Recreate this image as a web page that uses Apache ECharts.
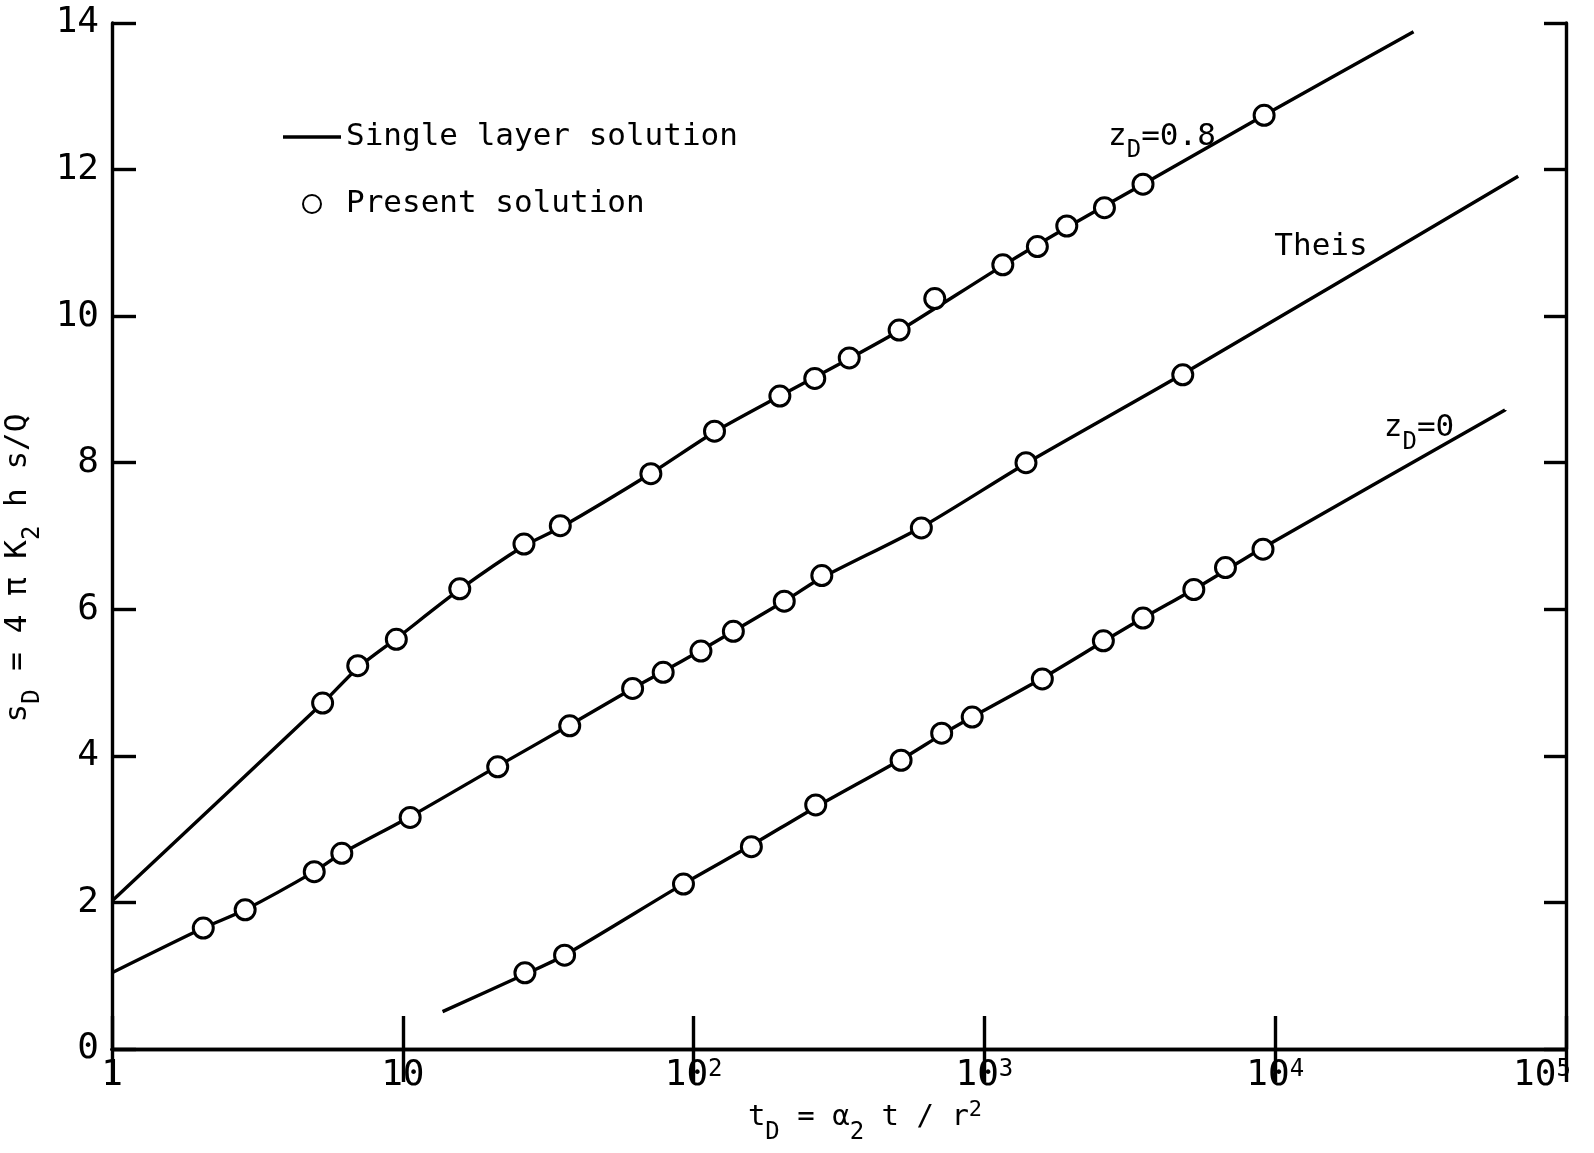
<!DOCTYPE html>
<html>
<head>
<meta charset="utf-8">
<script src="https://cdn.jsdelivr.net/npm/echarts@6/dist/echarts.min.js"></script>
<style>
  html, body { margin: 0; padding: 0; background: #ffffff; }
  #chart { width: 1594px; height: 1153px; }
</style>
</head>
<body>
<div id="chart"></div>
<script>
// Dimensionless drawdown s_D against dimensionless time t_D (log scale)

const xTicks = [1, 10, 100, 1000, 10000, 100000];
const xTickLabels = ['1', '10', '10^2', '10^3', '10^4', '10^5'];
const yTickLabels = ['0', '2', '4', '6', '8', '10', '12', '14'];

// Single layer solution curves, [t_D, s_D]
const lineZ08 = [
  [1, 2.02], [5.3, 4.72], [7, 5.2],
  [9.5, 5.6], [15.7, 6.27], [26, 6.86], [35, 7.12], [71, 7.85], [118, 8.42],
  [200, 8.92], [343, 9.42], [509, 9.8], [1157, 10.69], [1920, 11.21],
  [3511, 11.8], [9160, 12.74], [29900, 13.88]
];
const lineTheis = [
  [1, 1.04], [2.06, 1.65], [2.87, 1.9], [4.96, 2.42], [6.17, 2.67], [10.6, 3.17],
  [21.2, 3.86], [37.5, 4.42], [61.7, 4.92], [78.6, 5.15], [106, 5.44], [137, 5.7],
  [205, 6.11], [276, 6.43], [607, 7.12], [1390, 7.99], [4810, 9.21], [68500, 11.91]
];
const lineZ0 = [
  [13.7, 0.51], [26.3, 1.02], [36, 1.28], [92, 2.25], [158, 2.78], [263, 3.3],
  [517, 3.95], [713, 4.29], [908, 4.53], [1582, 5.06], [2565, 5.56], [3511, 5.88],
  [5250, 6.27], [6745, 6.53], [9080, 6.84], [61700, 8.72]
];

// Present solution, [t_D, s_D]
const ptsZ08 = [
  [5.3, 4.72], [7.0, 5.23], [9.5, 5.59], [15.7, 6.28], [26.1, 6.89], [34.8, 7.14],
  [71.3, 7.85], [118, 8.43], [198, 8.91], [261, 9.15], [343, 9.43], [509, 9.81],
  [675, 10.24], [1157, 10.7], [1521, 10.95], [1920, 11.23], [2587, 11.48],
  [3511, 11.8], [9160, 12.74]
];
const ptsTheis = [
  [2.06, 1.65], [2.87, 1.9], [4.96, 2.42], [6.17, 2.67], [10.6, 3.16], [21.2, 3.85],
  [37.5, 4.41], [61.7, 4.92], [78.6, 5.14], [106, 5.43], [137, 5.7], [205, 6.11],
  [276, 6.46], [607, 7.11], [1390, 8.0], [4810, 9.2]
];
const ptsZ0 = [
  [26.3, 1.04], [36, 1.28], [92.3, 2.25], [158, 2.76], [263, 3.33], [517, 3.94],
  [713, 4.31], [908, 4.53], [1582, 5.05], [2565, 5.57], [3511, 5.88], [5250, 6.27],
  [6745, 6.57], [9080, 6.82]
];

const curveTexts = ['z{s|D}=0.8', 'Theis', 'z{s|D}=0'];

const FONT = '"DejaVu Sans Mono", "Liberation Mono", monospace';
const INK = '#000000';

const subRich = {
  b: { fontFamily: FONT, fontSize: 31, color: INK, verticalAlign: 'top', lineHeight: 32 },
  s: { fontFamily: FONT, fontSize: 24, color: INK, verticalAlign: 'top', lineHeight: 24, padding: [18, 0, 0, 0] },
  p: { fontFamily: FONT, fontSize: 22, color: INK, verticalAlign: 'top', lineHeight: 22, padding: [-4, 0, 0, 0] }
};

const tickRich = {
  b: { fontFamily: FONT, fontSize: 36, color: INK, verticalAlign: 'top', lineHeight: 38 },
  sup: { fontFamily: FONT, fontSize: 24, color: INK, verticalAlign: 'top', lineHeight: 24 },
  supEnd: { fontFamily: FONT, fontSize: 24, color: INK, verticalAlign: 'top', lineHeight: 24, padding: [0, 48, 0, 0] }
};

function tickText(v) {
  const i = xTicks.findIndex(t => Math.abs(Math.log10(t) - Math.log10(v)) < 1e-6);
  if (i < 0) return '';
  const parts = xTickLabels[i].split('^');
  if (parts.length < 2) return '{b|' + parts[0] + '}';
  const supStyle = i === xTicks.length - 1 ? 'supEnd' : 'sup';
  return '{b|' + parts[0] + '}{' + supStyle + '|' + parts[1] + '}';
}

function curveLabel(coord, text) {
  return {
    symbol: 'circle', symbolSize: 1, silent: true,
    itemStyle: { color: 'rgba(0,0,0,0)' },
    data: [{ coord: coord }],
    label: {
      show: true, position: 'inside', formatter: text,
      fontFamily: FONT, fontSize: 31, color: INK,
      rich: { b: subRich.b, s: subRich.s }
    }
  };
}

const lineStyle = { color: INK, width: 3.4 };
const pointStyle = { color: '#ffffff', borderColor: INK, borderWidth: 3, opacity: 1 };

function lineSeries(data, mark) {
  return {
    name: 'Single layer solution', type: 'line', data: data,
    symbol: 'none', smooth: 0.25, lineStyle: lineStyle, itemStyle: { color: INK },
    z: 2, silent: true, markPoint: mark
  };
}
function pointSeries(data) {
  return {
    name: 'Present solution', type: 'scatter', data: data,
    symbol: 'circle', symbolSize: 20, itemStyle: pointStyle, z: 3
  };
}

const axisLine = { show: true, lineStyle: { color: INK, width: 3.4 } };
const tickStyle = { color: INK, width: 3.4 };

const option = {
  backgroundColor: '#ffffff',
  animation: false,
  grid: {
    left: 112, right: 28, top: 23, bottom: 104,
    containLabel: false, outerBoundsMode: 'none'
  },
  legend: {
    orient: 'vertical', left: 278, top: 114,
    itemWidth: 58, itemHeight: 18, itemGap: 31,
    symbolKeepAspect: true,
    textStyle: { fontFamily: FONT, fontSize: 31, color: INK, lineHeight: 36 },
    data: [
      { name: 'Single layer solution', icon: 'path://M0,0 L58,0 L58,3.4 L0,3.4 Z', itemStyle: { color: INK } },
      { name: 'Present solution', icon: 'circle' }
    ]
  },
  xAxis: [
    {
      type: 'log', logBase: 10, min: 1, max: 100000, position: 'bottom',
      axisLine: axisLine, splitLine: { show: false },
      axisTick: { show: true, inside: true, length: 33, lineStyle: tickStyle },
      minorTick: { show: false },
      axisLabel: {
        show: true, margin: 9, showMinLabel: true, showMaxLabel: true,
        formatter: tickText, rich: tickRich
      },
      name: 't{s|D} = α{s|2} t / r{p|2}', nameLocation: 'middle', nameGap: 54,
      nameTextStyle: {
        fontFamily: FONT, fontSize: 29, color: INK, padding: [0, 0, 0, 52],
        rich: subRich
      }
    },
    {
      type: 'log', logBase: 10, min: 1, max: 100000, position: 'top',
      axisLine: axisLine, splitLine: { show: false },
      axisTick: { show: true, inside: true, length: 33, lineStyle: tickStyle },
      axisLabel: { show: false }
    }
  ],
  yAxis: [
    {
      type: 'value', min: 0, max: 14, interval: 2, position: 'left',
      axisLine: axisLine, splitLine: { show: false },
      axisTick: { show: true, inside: true, length: 24, lineStyle: tickStyle },
      axisLabel: {
        show: true, margin: 13, fontFamily: FONT, fontSize: 36, color: INK,
        formatter: v => yTickLabels[Math.round(v / 2)] ?? ''
      },
      name: 's{s|D} = 4 π K{s|2} h s/Q', nameLocation: 'middle', nameRotate: 90, nameGap: 62,
      nameTextStyle: {
        fontFamily: FONT, fontSize: 31, color: INK, padding: [0, 64, 0, 0],
        rich: subRich
      }
    },
    {
      type: 'value', min: 0, max: 14, interval: 2, position: 'right',
      axisLine: axisLine, splitLine: { show: false },
      axisTick: { show: true, inside: true, length: 22, lineStyle: tickStyle },
      axisLabel: { show: false }
    }
  ],
  series: [
    lineSeries(lineZ08, curveLabel([4080, 12.45], curveTexts[0])),
    lineSeries(lineTheis, curveLabel([14370, 10.95], curveTexts[1])),
    lineSeries(lineZ0, curveLabel([31240, 8.47], curveTexts[2])),
    pointSeries(ptsZ08),
    pointSeries(ptsTheis),
    pointSeries(ptsZ0)
  ]
};

const chart = echarts.init(document.getElementById('chart'), null, { renderer: 'canvas' });
chart.setOption(option);
</script>
</body>
</html>
